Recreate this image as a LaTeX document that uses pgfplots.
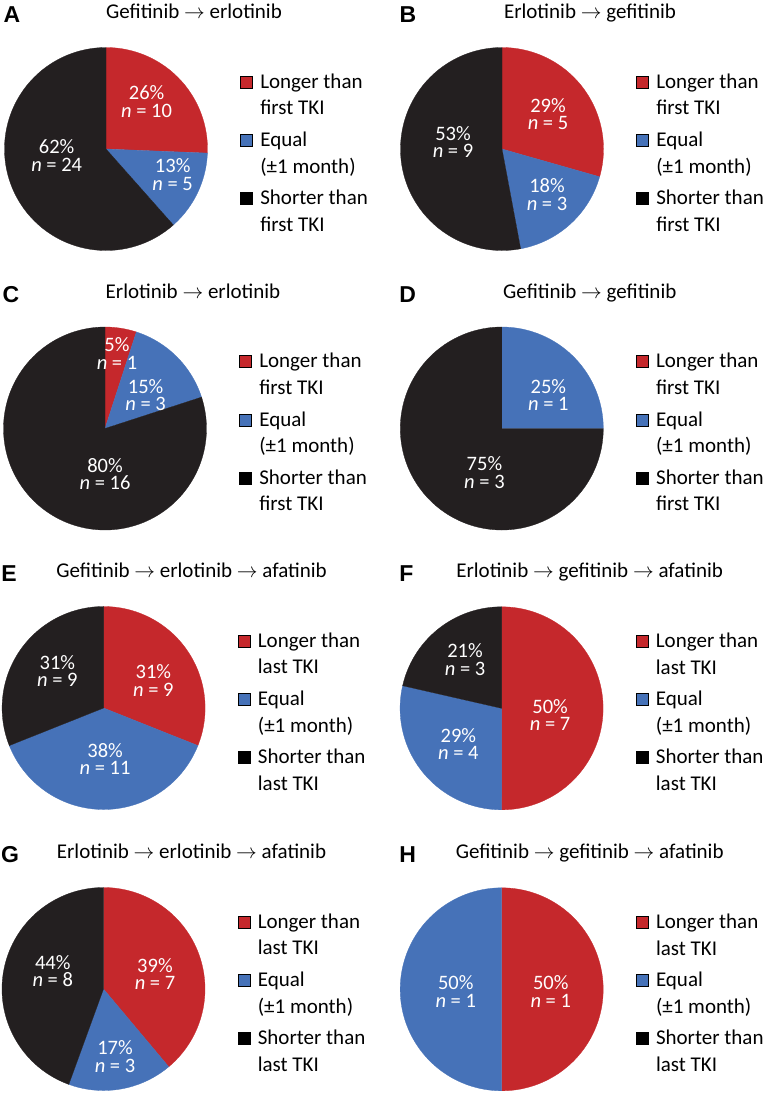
\documentclass[border=0pt]{standalone}
\usepackage{fontspec}
\setmainfont{Carlito}
\newfontfamily\letterfont{Liberation Sans}
\usepackage{pgfplots}
\pgfplotsset{compat=1.18}
\definecolor{redc}{HTML}{C5282C}
\definecolor{bluec}{HTML}{4672B8}
\definecolor{blackc}{HTML}{231F20}
\newcommand\legfont{\fontsize{21}{26.5}\selectfont}
\newcommand\labfont{\fontsize{20.5}{17.5}\selectfont}
\newcommand\ttlfont{\fontsize{21}{25}\selectfont}
\newcommand\letfont{\letterfont\bfseries\fontsize{23}{26}\selectfont}
\pgfplotsset{
  piestyle/.style={
    scale only axis, width=203pt, height=203pt,
    xmin=-1, xmax=1, ymin=-1, ymax=1, hide axis, clip=false, anchor=center,
    legend cell align=left,
    legend style={at={(axis description cs:1.1616,0.870)}, anchor=north west,
      draw=none, fill=none, inner sep=0pt, outer sep=0pt, row sep=15.5pt,
      font=\legfont, nodes={inner sep=0pt, outer sep=0pt, align=left, font=\legfont}},
    legend image code/.code={\fill[##1] (0pt,7pt) rectangle (12pt,19pt); \path (19.6pt,7pt);},
  }
}
% slices: counts of Longer, Equal, Shorter (clockwise from 12 o'clock)
\newcommand\slices[3]{%
  \pgfmathsetmacro\tot{#1+#2+#3}%
  \pgfmathsetmacro\aA{90}%
  \pgfmathsetmacro\aB{90-360*#1/\tot}%
  \pgfmathsetmacro\aC{90-360*(#1+#2)/\tot}%
  \pgfmathsetmacro\aD{-270}%
  \ifnum#1>0\relax
    \addplot[forget plot, fill=redc, draw=redc, line width=0.3pt, domain=\aB:\aA, samples=120] ({cos(x)},{sin(x)}) -- (axis cs:0,0) -- cycle;
  \fi
  \ifnum#2>0\relax
    \addplot[forget plot, fill=bluec, draw=bluec, line width=0.3pt, domain=\aC:\aB, samples=120] ({cos(x)},{sin(x)}) -- (axis cs:0,0) -- cycle;
  \fi
  \ifnum#3>0\relax
    \addplot[forget plot, fill=blackc, draw=blackc, line width=0.3pt, domain=\aD:\aC, samples=160] ({cos(x)},{sin(x)}) -- (axis cs:0,0) -- cycle;
  \fi
}
\newcommand\panelhead[2]{%
  \node[anchor=base west, inner sep=0pt, font=\letfont] at (axis cs:-1.01,1.246) {#1};
  \node[anchor=base, inner sep=0pt, font=\ttlfont] at (axis cs:0.867,1.285) {#2};
}
\newcommand\plab[4]{\node[text=white, align=center, inner sep=0pt, font=\labfont] at (axis cs:#1,#2) {#3\%\\\textit{n} = #4};}
\newcommand\pleg[1]{%
  \addlegendimage{fill=redc}\addlegendentry{Longer than\\#1 TKI}
  \addlegendimage{fill=bluec}\addlegendentry{Equal\\(±1 month)}
  \addlegendimage{fill=black}\addlegendentry{Shorter than\\#1 TKI}
}
\begin{document}
\begin{tikzpicture}
\path[use as bounding box] (0pt,0pt) rectangle (765pt,-1093pt);
% A
\begin{axis}[piestyle, at={(106pt,-149pt)}]
\slices{10}{5}{24}
\pleg{first}
\panelhead{A}{Gefitinib $\rightarrow$ erlotinib}
\plab{0.40}{0.465}{26}{10}
\plab{0.657}{-0.25}{13}{5}
\plab{-0.486}{-0.062}{62}{24}
\end{axis}
% B
\begin{axis}[piestyle, at={(502pt,-149pt)}]
\slices{5}{3}{9}
\pleg{first}
\panelhead{B}{Erlotinib $\rightarrow$ gefitinib}
\plab{0.453}{0.342}{29}{5}
\plab{0.443}{-0.451}{18}{3}
\plab{-0.483}{0.071}{53}{9}
\end{axis}
% C
\begin{axis}[piestyle, at={(105pt,-428.5pt)}]
\slices{1}{3}{16}
\pleg{first}
\panelhead{C}{Erlotinib $\rightarrow$ erlotinib}
\plab{0.118}{0.739}{5}{1}
\plab{0.40}{0.33}{15}{3}
\plab{0}{-0.451}{80}{16}
\end{axis}
% D
\begin{axis}[piestyle, at={(501.8pt,-428.5pt)}]
\slices{0}{1}{3}
\pleg{first}
\panelhead{D}{Gefitinib $\rightarrow$ gefitinib}
\plab{0.459}{0.33}{25}{1}
\plab{-0.171}{-0.433}{75}{3}
\end{axis}
% E
\begin{axis}[piestyle, at={(103.6pt,-708pt)}]
\slices{9}{11}{9}
\pleg{last}
\panelhead{E}{Gefitinib $\rightarrow$ erlotinib $\rightarrow$ afatinib}
\plab{0.49}{0.273}{31}{9}
\plab{0.015}{-0.5}{38}{11}
\plab{-0.455}{0.366}{31}{9}
\end{axis}
% F
\begin{axis}[piestyle, at={(501.6pt,-708.3pt)}]
\slices{7}{4}{3}
\pleg{last}
\panelhead{F}{Erlotinib $\rightarrow$ gefitinib $\rightarrow$ afatinib}
\plab{0.478}{-0.064}{50}{7}
\plab{-0.426}{-0.352}{29}{4}
\plab{-0.36}{0.48}{21}{3}
\end{axis}
% G
\begin{axis}[piestyle, at={(103.5pt,-989pt)}]
\slices{7}{3}{8}
\pleg{last}
\panelhead{G}{Erlotinib $\rightarrow$ erlotinib $\rightarrow$ afatinib}
\plab{0.507}{0.146}{39}{7}
\plab{0.113}{-0.668}{17}{3}
\plab{-0.5}{0.179}{44}{8}
\end{axis}
% H
\begin{axis}[piestyle, at={(501.7pt,-989.3pt)}]
\slices{1}{1}{0}
\pleg{last}
\panelhead{H}{Gefitinib $\rightarrow$ gefitinib $\rightarrow$ afatinib}
\plab{0.483}{-0.024}{50}{1}
\plab{-0.453}{-0.024}{50}{1}
\end{axis}
\end{tikzpicture}
\end{document}
